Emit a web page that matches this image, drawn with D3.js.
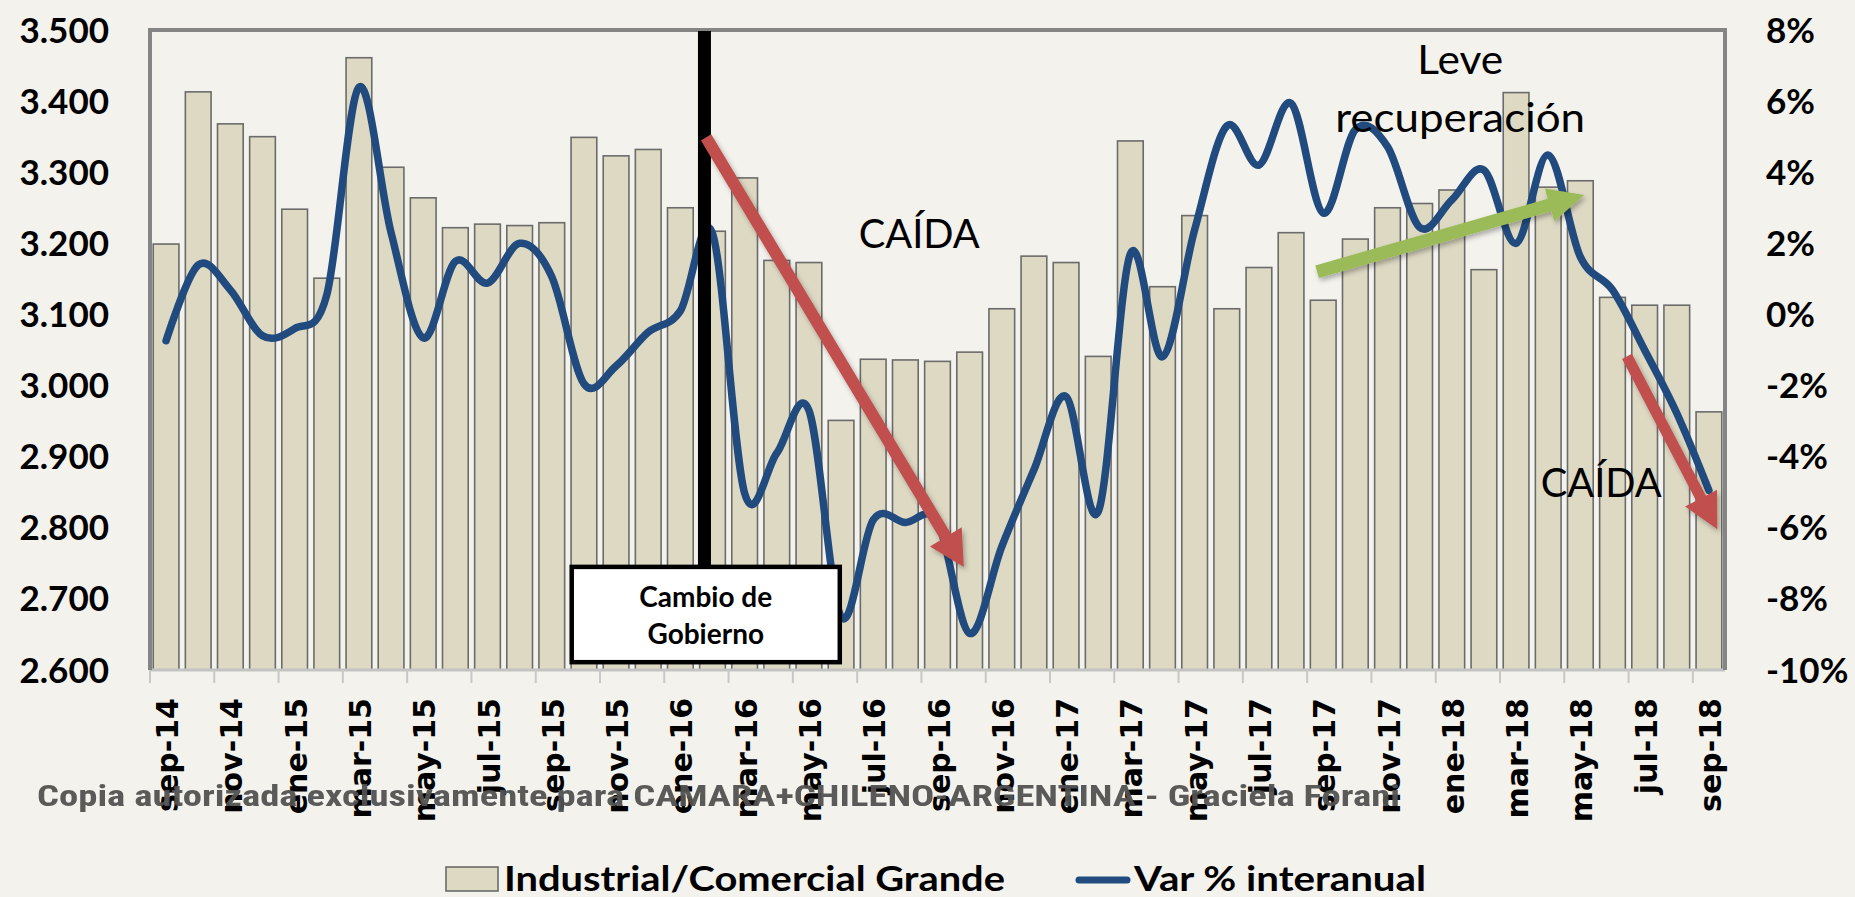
<!DOCTYPE html>
<html>
<head>
<meta charset="utf-8">
<script src="https://cdn.jsdelivr.net/npm/d3@7"></script>
<style>
  body { margin: 0; background: #f3f2ed; }
  svg { display: block; }
</style>
</head>
<body>
<div id="chart"></div>
<script>
(function () {
    const W = 1855, H = 897;
    const plot = { left: 150, right: 1725, top: 30, bottom: 670 };

    // data
    const months = [
        "sep-14", "oct-14", "nov-14", "dic-14", "ene-15", "feb-15", "mar-15", "abr-15", "may-15", "jun-15",
        "jul-15", "ago-15", "sep-15", "oct-15", "nov-15", "dic-15", "ene-16", "feb-16", "mar-16", "abr-16",
        "may-16", "jun-16", "jul-16", "ago-16", "sep-16", "oct-16", "nov-16", "dic-16", "ene-17", "feb-17",
        "mar-17", "abr-17", "may-17", "jun-17", "jul-17", "ago-17", "sep-17", "oct-17", "nov-17", "dic-17",
        "ene-18", "feb-18", "mar-18", "abr-18", "may-18", "jun-18", "jul-18", "ago-18", "sep-18"
    ];
    const consumo = [
        3199, 3413, 3368, 3350, 3248, 3151, 3461, 3307, 3264, 3222,
        3227, 3225, 3229, 3349, 3323, 3332, 3250, 3217, 3292, 3176,
        3173, 2951, 3037, 3036, 3034, 3047, 3108, 3182, 3173, 3041,
        3344, 3139, 3239, 3108, 3166, 3215, 3120, 3206, 3250, 3256,
        3275, 3163, 3412, 3279, 3288, 3124, 3113, 3113, 2963
    ];
    const varPct = [
        -0.74, 1.39, 0.69, -0.6, -0.4, 0.55, 6.39, 2.3, -0.66, 1.49,
        0.88, 2.0, 1.06, -1.95, -1.45, -0.5, 0.1, 2.28, -5.03, -3.9,
        -2.7, -8.5, -5.78, -5.85, -5.83, -8.97, -6.53, -4.37, -2.31, -5.55,
        1.7, -1.19, 2.38, 5.3, 4.2, 5.94, 2.85, 5.2, 4.72, 2.45,
        3.22, 4.06, 2.0, 4.48, 1.62, 0.69, -1.0, -2.78, -4.95
    ];
    const leftTicks = [2600, 2700, 2800, 2900, 3000, 3100, 3200, 3300, 3400, 3500];
    const rightTicks = [-10, -8, -6, -4, -2, 0, 2, 4, 6, 8];

    // annotations, in (category position, left-axis value)
    const redArrows = [
        { from: [17.3, 3349], to: [25.32, 2745] },
        { from: [45.95, 3041], to: [48.76, 2798] }
    ];
    const greenArrow = { from: [36.31, 3160], to: [44.62, 3268] };
    const govLine = { at: 17.25, top: 3500, bottom: 2747 };
    const govBox = { x0: 13.12, x1: 21.46, top: 2745, bottom: 2611, lines: ["Cambio de", "Gobierno"] };
    const notes = [
        { text: "CAÍDA", at: 23.93, v: 3193, len: 121 },
        { text: "Leve", at: 40.76, v: 3438, len: 86 },
        { text: "recuperación", at: 40.76, v: 3357, len: 250 },
        { text: "CAÍDA", at: 45.15, v: 2843, len: 121 }
    ];

    const svg = d3.select("#chart").append("svg")
        .attr("width", W)
        .attr("height", H);

    const defs = svg.append("defs");
    const shadow = defs.append("filter").attr("id", "shadow")
        .attr("x", "-20%").attr("y", "-20%").attr("width", "140%").attr("height", "140%");
    shadow.append("feDropShadow")
        .attr("dx", 2).attr("dy", 3).attr("stdDeviation", 2.5)
        .attr("flood-color", "#000").attr("flood-opacity", 0.3);

    svg.append("rect").attr("width", W).attr("height", H).attr("fill", "#f3f2ed");

    const x = d3.scaleBand()
        .domain(months)
        .range([plot.left, plot.right])
        .paddingInner(0.2)
        .paddingOuter(0.1);
    const y = d3.scaleLinear().domain([2600, 3500]).range([plot.bottom, plot.top]);
    const y2 = d3.scaleLinear().domain([-10, 8]).range([plot.bottom, plot.top]);
    const px = idx => x.range()[0] + idx * x.step();
    const cx = m => x(m) + x.bandwidth() / 2;

    // bars
    svg.append("g").selectAll("rect")
        .data(months)
        .enter().append("rect")
        .attr("x", d => x(d))
        .attr("y", (d, i) => y(consumo[i]))
        .attr("width", x.bandwidth())
        .attr("height", (d, i) => y(2600) - y(consumo[i]))
        .style("fill", "#ddd9c3")
        .style("stroke", "#6b6b6b")
        .style("stroke-width", 1.6);

    // axis frame
    const frame = svg.append("g");
    frame.append("line")
        .attr("x1", plot.left).attr("x2", plot.right)
        .attr("y1", plot.bottom).attr("y2", plot.bottom)
        .style("stroke", "#c3c3c3").style("stroke-width", 3);
    frame.selectAll(".tick")
        .data(d3.range(0, months.length, 2))
        .enter().append("line")
        .attr("x1", d => px(d)).attr("x2", d => px(d))
        .attr("y1", plot.bottom).attr("y2", plot.bottom + 13)
        .style("stroke", "#c8c8c8").style("stroke-width", 2);
    frame.append("path")
        .attr("d", `M${plot.left},${plot.bottom}V${plot.top}H${plot.right}V${plot.bottom}`)
        .style("fill", "none")
        .style("stroke", "#858585")
        .style("stroke-width", 4);

    // var % line
    const line = d3.line()
        .x((d, i) => cx(months[i]))
        .y(d => y2(d))
        .curve(d3.curveCatmullRom.alpha(0));
    svg.append("path")
        .datum(varPct)
        .attr("d", line)
        .style("fill", "none")
        .style("stroke", "#214b7e")
        .style("stroke-width", 7.5)
        .style("stroke-linecap", "round")
        .style("stroke-linejoin", "round");

    function arrowPoints(a, w, hw, hl) {
        const x1 = px(a.from[0]), y1 = y(a.from[1]);
        const x2 = px(a.to[0]), y2p = y(a.to[1]);
        const dx = x2 - x1, dy = y2p - y1, L = Math.hypot(dx, dy);
        const ux = dx / L, uy = dy / L, nx = -uy, ny = ux;
        const bx = x2 - ux * hl, by = y2p - uy * hl;
        return [
            [x1 + nx * w / 2, y1 + ny * w / 2],
            [bx + nx * w / 2, by + ny * w / 2],
            [bx + nx * hw / 2, by + ny * hw / 2],
            [x2, y2p],
            [bx - nx * hw / 2, by - ny * hw / 2],
            [bx - nx * w / 2, by - ny * w / 2],
            [x1 - nx * w / 2, y1 - ny * w / 2]
        ].map(p => p.join(",")).join(" ");
    }

    // government change marker
    svg.append("line")
        .attr("x1", px(govLine.at)).attr("x2", px(govLine.at))
        .attr("y1", y(govLine.top) + 1).attr("y2", y(govLine.bottom))
        .style("stroke", "#000").style("stroke-width", 13);

    svg.append("polygon")
        .attr("points", arrowPoints(redArrows[0], 12, 37, 35))
        .style("fill", "#c0504d")
        .attr("filter", "url(#shadow)");

    svg.append("rect")
        .attr("x", px(govBox.x0)).attr("y", y(govBox.top))
        .attr("width", px(govBox.x1) - px(govBox.x0))
        .attr("height", y(govBox.bottom) - y(govBox.top))
        .style("fill", "#fff")
        .style("stroke", "#000")
        .style("stroke-width", 4.5);
    svg.append("g").selectAll("text")
        .data(govBox.lines)
        .enter().append("text")
        .attr("x", (px(govBox.x0) + px(govBox.x1)) / 2)
        .attr("y", (d, i) => y(govBox.top) + 40 + i * 37)
        .attr("text-anchor", "middle")
        .style("font-family", "Lato, 'Open Sans', sans-serif")
        .style("font-weight", "bold")
        .style("font-size", "28px")
        .text(d => d);

    svg.append("polygon")
        .attr("points", arrowPoints(redArrows[1], 11, 36, 35))
        .style("fill", "#c0504d")
        .attr("filter", "url(#shadow)");

    svg.append("polygon")
        .attr("points", arrowPoints(greenArrow, 13, 34, 36))
        .style("fill", "#9bbb59")
        .attr("filter", "url(#shadow)");

    svg.append("g").selectAll("text")
        .data(notes)
        .enter().append("text")
        .attr("x", d => px(d.at))
        .attr("y", d => y(d.v))
        .attr("text-anchor", "middle")
        .attr("textLength", d => d.len)
        .attr("lengthAdjust", "spacingAndGlyphs")
        .style("font-family", "Lato, 'Open Sans', sans-serif")
        .style("font-size", "41px")
        .style("fill", "#000")
        .text(d => d.text);

    // left axis labels
    const fmtLeft = d => d3.format(",")(d).replace(",", ".");
    svg.append("g").selectAll("text")
        .data(leftTicks)
        .enter().append("text")
        .attr("x", 109)
        .attr("y", d => y(d))
        .attr("dy", "0.36em")
        .attr("text-anchor", "end")
        .style("font-family", "Lato, sans-serif")
        .style("font-weight", "bold")
        .style("font-size", "35px")
        .text(fmtLeft);

    // right axis labels
    svg.append("g").selectAll("text")
        .data(rightTicks)
        .enter().append("text")
        .attr("x", 1766)
        .attr("y", d => y2(d))
        .attr("dy", "0.36em")
        .attr("text-anchor", "start")
        .style("font-family", "Lato, sans-serif")
        .style("font-weight", "bold")
        .style("font-size", "35px")
        .text(d => d + "%");

    // category labels, every second month
    svg.append("g").selectAll("text")
        .data(months.filter((d, i) => i % 2 === 0))
        .enter().append("text")
        .attr("transform", d => `translate(${cx(d)},698) rotate(-90)`)
        .attr("dy", "0.4em")
        .attr("text-anchor", "end")
        .style("font-family", "'DejaVu Sans', sans-serif")
        .style("font-weight", "bold")
        .style("font-size", "30px")
        .text(d => d);

    // legend
    const legend = svg.append("g")
        .style("font-family", "Lato, sans-serif")
        .style("font-weight", "bold")
        .style("font-size", "35px");
    legend.append("rect")
        .attr("x", 446).attr("y", 867).attr("width", 52).attr("height", 24)
        .style("fill", "#ddd9c3").style("stroke", "#6b6b6b").style("stroke-width", 1.6);
    legend.append("text")
        .attr("x", 504).attr("y", 891)
        .attr("textLength", 501).attr("lengthAdjust", "spacingAndGlyphs")
        .text("Industrial/Comercial Grande");
    legend.append("line")
        .attr("x1", 1079).attr("x2", 1127).attr("y1", 880).attr("y2", 880)
        .style("stroke", "#214b7e").style("stroke-width", 7).style("stroke-linecap", "round");
    legend.append("text")
        .attr("x", 1134).attr("y", 891)
        .attr("textLength", 292).attr("lengthAdjust", "spacingAndGlyphs")
        .text("Var % interanual");

    // copy notice over the labels
    svg.append("text")
        .attr("x", 37).attr("y", 806)
        .attr("textLength", 1363).attr("lengthAdjust", "spacingAndGlyphs")
        .style("font-family", "'Liberation Sans Narrow', 'Roboto Condensed', 'Liberation Sans', sans-serif")
        .style("font-weight", "bold")
        .style("font-size", "29px")
        .style("fill", "#525252")
        .style("opacity", 0.95)
        .text("Copia autorizada exclusivamente para CAMARA+CHILENO-ARGENTINA - Graciela Forani");
})();
</script>
</body>
</html>
